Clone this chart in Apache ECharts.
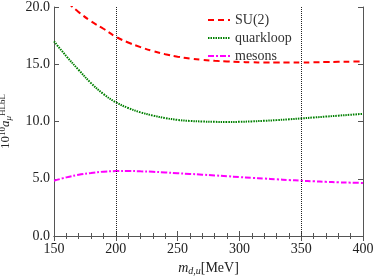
<!DOCTYPE html>
<html><head><meta charset="utf-8">
<script src="https://cdn.jsdelivr.net/npm/echarts@6/dist/echarts.min.js"></script>
<style>html,body{margin:0;padding:0;background:#fff}#c{width:374px;height:278px}</style>
</head><body><div id="c"></div>
<script>
const xs = [150,160,170,180,190,200,210,220,230,240,250,260,270,280,290,300,310,320,330,340,350,360,370,380,390,400];
const su2 = [21.6,20.5,19.55,18.75,18.1,17.4,16.9,16.5,16.15,15.88,15.66,15.5,15.38,15.3,15.24,15.2,15.17,15.15,15.15,15.15,15.15,15.17,15.19,15.21,15.23,15.25];
const quarkloop = [17.0,15.7,14.5,13.35,12.4,11.68,11.18,10.8,10.52,10.3,10.14,10.05,10.0,9.97,9.96,9.97,10.01,10.06,10.12,10.19,10.27,10.35,10.43,10.51,10.59,10.67];
const mesons = [4.83,5.12,5.35,5.5,5.62,5.67,5.68,5.65,5.61,5.55,5.48,5.42,5.36,5.29,5.22,5.15,5.08,5.02,4.95,4.89,4.83,4.78,4.73,4.69,4.66,4.63];
const vlines = [200, 350];
const yTicks = ['0.0','5.0','10.0','15.0','20.0'];
const names = ['SU(2)','quarkloop','mesons'];

const font = 'Liberation Serif';
const axisCol = '#555';
const pair = a => xs.map((x,i)=>[x,a[i]]);
const chart = echarts.init(document.getElementById('c'));
const baseX = {type:'value', min:150, max:400, interval:50,
  axisLine:{show:true,lineStyle:{color:axisCol,width:1}},
  axisTick:{show:true,inside:true,length:5,lineStyle:{color:axisCol}},
  minorTick:{show:true,splitNumber:5,length:3,lineStyle:{color:axisCol}},
  splitLine:{show:false}};
const baseY = {type:'value', min:0, max:20, interval:5,
  axisLine:{show:true,lineStyle:{color:axisCol,width:1}},
  axisTick:{show:true,inside:true,length:5,lineStyle:{color:axisCol}},
  splitLine:{show:false}};
chart.setOption({
  animation:false,
  grid:{left:54,right:11,top:7,bottom:42,containLabel:false,outerBoundsMode:'none'},
  xAxis:[
    Object.assign({}, baseX, {position:'bottom',
      axisLabel:{color:'#222',fontFamily:font,fontSize:14,margin:6},
      name:'{i|m}{s|d,u}{n|[MeV]}', nameLocation:'middle', nameGap:24,
      nameTextStyle:{fontFamily:font,color:'#222',rich:{
        i:{fontFamily:font,fontStyle:'italic',fontSize:14,color:'#222'},
        s:{fontFamily:font,fontStyle:'italic',fontSize:10,color:'#222',padding:[6,0,0,0]},
        n:{fontFamily:font,fontSize:14,color:'#222'}}}}),
    Object.assign({}, baseX, {position:'top', axisLabel:{show:false}})
  ],
  yAxis:[
    Object.assign({}, baseY, {position:'left',
      axisLabel:{color:'#222',fontFamily:font,fontSize:14,margin:4,formatter:v=>yTicks[v/5]},
      name:'{n|10}{p|10}{a|a}{s|μ}{p|HLbL}', nameLocation:'middle', nameGap:40, nameRotate:90,
      nameTextStyle:{fontFamily:font,color:'#222',rich:{
        n:{fontFamily:font,fontSize:13,color:'#222'},
        p:{fontFamily:font,fontSize:9,color:'#222',padding:[0,0,7,0]},
        a:{fontFamily:font,fontStyle:'italic',fontSize:13,color:'#222'},
        s:{fontFamily:font,fontStyle:'italic',fontSize:9,color:'#222',padding:[5,0,0,0]}}}}),
    Object.assign({}, baseY, {position:'right', axisLabel:{show:false}})
  ],
  legend:{show:true, orient:'vertical', left:202, top:8, itemWidth:22, itemHeight:10, itemGap:4,
    itemStyle:{opacity:0}, lineStyle:{width:2},
    textStyle:{fontFamily:font,fontSize:14,color:'#333'}, data:names},
  series:[
    {name:names[0], type:'line', data:pair(su2), showSymbol:false, symbol:'none', smooth:0.4,
      lineStyle:{color:'#ff0000',width:2,type:[6,4]}, itemStyle:{color:'#ff0000'},
      markLine:{silent:true,symbol:'none',label:{show:false},
        lineStyle:{color:'#222',width:1,type:[1,1]},
        data:vlines.map(v=>({xAxis:v}))}},
    {name:names[1], type:'line', data:pair(quarkloop), showSymbol:false, symbol:'none', smooth:0.4,
      lineStyle:{color:'#008000',width:2,type:[1.5,1]}, itemStyle:{color:'#008000'}},
    {name:names[2], type:'line', data:pair(mesons), showSymbol:false, symbol:'none', smooth:0.4,
      lineStyle:{color:'#ff00ff',width:2,type:[6,2,2,2]}, itemStyle:{color:'#ff00ff'}}
  ]
});
</script></body></html>
